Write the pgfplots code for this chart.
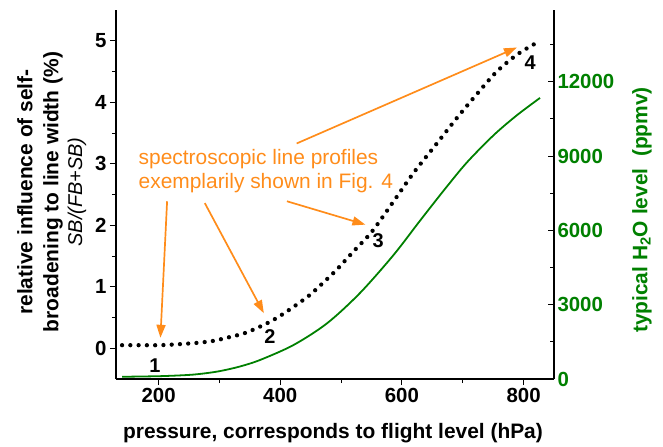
\documentclass[border=0pt]{standalone}
\usepackage{pgfplots}
\pgfplotsset{compat=1.18}
\usepackage{fontspec}
\setmainfont{Liberation Sans}
\usetikzlibrary{arrows.meta}
\definecolor{orng}{RGB}{255,140,26}
\definecolor{grn}{RGB}{0,128,0}
\begin{document}
\begin{tikzpicture}
\useasboundingbox (-116bp,-68bp) rectangle (547bp,379bp);
\begin{axis}[
  at={(0,0)}, anchor=south west,
  scale only axis, width=438bp, height=369bp,
  xmin=130, xmax=850, ymin=-0.5, ymax=5.5,
  axis x line*=bottom, axis y line*=left,
  axis line style={line width=1.2pt, -},
  xtick={200,400,600,800}, minor xtick={300,500,700},
  ytick={0,1,2,3,4,5}, minor ytick={0.5,1.5,2.5,3.5,4.5},
  tick style={line width=1pt, black},
  major tick length=6bp, minor tick length=4bp,
  tick align=outside,
  ticklabel style={font=\fontsize{20.5}{23}\selectfont\bfseries},
  /pgf/number format/assume math mode=true,
  clip=false,
]
\addplot[black, line width=4.3pt, line cap=round, dash pattern=on 0pt off 8.3pt, smooth] coordinates {
(140,0.05)(170,0.05)(203,0.05)(240,0.07)(266,0.09)(290,0.12)(312,0.17)(340,0.24)(362,0.33)(385,0.44)(405,0.56)(430,0.73)(449,0.87)(470,1.06)(493,1.28)(520,1.57)(551,1.90)(585,2.37)(619,2.85)(655,3.30)(690,3.74)(723,4.13)(756,4.50)(790,4.78)(822,4.97)};
\begin{scope}[orng, line width=1.7pt, -{Triangle[length=13pt,width=9pt]}]
\draw (axis cs:214,2.39) -- (axis cs:203,0.17);
\draw (axis cs:276,2.36) -- (axis cs:373,0.57);
\draw (axis cs:411,2.39) -- (axis cs:540,2.01);
\draw (axis cs:427,3.33) -- (axis cs:789,4.89);
\end{scope}
\node[orng, anchor=west, align=left, font=\fontsize{21}{24}\selectfont, inner sep=0pt] at (axis cs:167,2.875) {spectroscopic line profiles\\exemplarily shown in Fig. 4};
\begin{scope}[font=\fontsize{20}{22}\selectfont\bfseries]
\node at (axis cs:194,-0.28) {1};
\node at (axis cs:383,0.19) {2};
\node at (axis cs:561,1.75) {3};
\node at (axis cs:811,4.64) {4};
\end{scope}
\end{axis}
\begin{axis}[
  at={(0,0)}, anchor=south west,
  scale only axis, width=438bp, height=369bp,
  xmin=130, xmax=850, ymin=0, ymax=14900,
  axis x line=none, axis y line*=right,
  axis line style={line width=1.2pt, -},
  ytick={0,3000,6000,9000,12000}, minor ytick={1500,4500,7500,10500,13500},
  tick style={line width=1pt, black},
  major tick length=6bp, minor tick length=4bp,
  tick align=inside,
  ticklabel style={font=\fontsize{20.5}{23}\selectfont\bfseries, grn},
  /pgf/number format/assume math mode=true,
  scaled y ticks=false,
  yticklabel style={/pgf/number format/1000 sep={}},
]
\addplot[grn, line width=1.8pt, smooth] coordinates {
(140,90)(203,115)(250,165)(275,225)(301,320)(333,500)(367,770)(422,1375)(477,2250)(531,3470)(586,5000)(630,6400)(670,7650)(707,8750)(751,9850)(789,10650)(827,11350)};
\end{axis}
\node[rotate=90, font=\fontsize{21}{24}\selectfont\bfseries] at (-91bp,187bp) {relative influence of self-};
\node[rotate=90, font=\fontsize{21}{24}\selectfont\bfseries] at (-63bp,187bp) {broadening to line width (\%)};
\node[rotate=90, font=\fontsize{20}{24}\selectfont\itshape] at (-39bp,187bp) {SB/(FB+SB)};
\node[rotate=90, grn, font=\fontsize{21}{24}\selectfont\bfseries] at (526bp,169bp) {typical H\textsubscript{2}O level\ \ (ppmv)};
\node[font=\fontsize{21}{24}\selectfont\bfseries] at (217bp,-54bp) {pressure, corresponds to flight level (hPa)};
\end{tikzpicture}
\end{document}
